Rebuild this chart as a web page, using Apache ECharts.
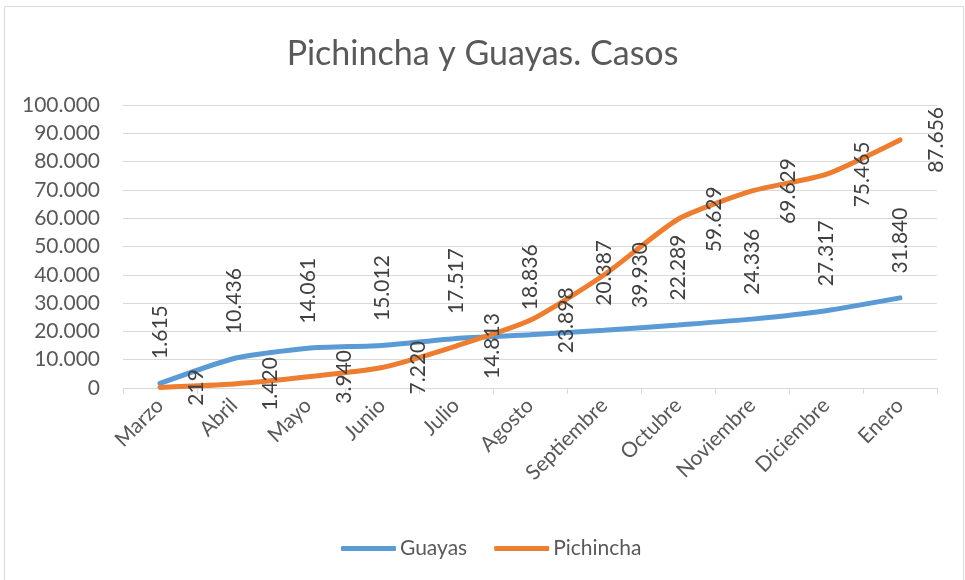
<!DOCTYPE html>
<html><head><meta charset="utf-8">
<script src="https://cdn.jsdelivr.net/npm/echarts@6/dist/echarts.min.js"></script>
<style>html,body{margin:0;padding:0;background:#fff}#c{width:965px;height:580px}</style>
</head><body><div id="c"></div>
<script>
const categories = ['Marzo', 'Abril', 'Mayo', 'Junio', 'Julio', 'Agosto', 'Septiembre', 'Octubre', 'Noviembre', 'Diciembre', 'Enero'];
const guayas = [1615, 10436, 14061, 15012, 17517, 18836, 20387, 22289, 24336, 27317, 31840];
const pichincha = [219, 1420, 3940, 7220, 14813, 23898, 39930, 59629, 69629, 75465, 87656];
const yMin = 0, yMax = 100000, yStep = 10000;
const titleText = 'Pichincha y Guayas. Casos';

const FONT = 'Lato';
const fmt = v => String(v).replace(/\B(?=(\d{3})+(?!\d))/g, '.');

const chart = echarts.init(document.getElementById('c'), null, {renderer: 'canvas'});
chart.setOption({
  animation: false,
  backgroundColor: '#fff',
  title: {
    text: titleText, left: 'center', top: 32,
    textStyle: {fontFamily: FONT, fontSize: 34, fontWeight: 'normal', color: '#595959'}
  },
  graphic: [{
    type: 'rect', shape: {x: 4.5, y: 6.5, width: 959, height: 590},
    style: {fill: 'none', stroke: '#d9d9d9', lineWidth: 1}, silent: true
  }],
  legend: {
    left: 336, top: 533, itemWidth: 55, itemHeight: 5, itemGap: 27,
    icon: 'roundRect',
    textStyle: {fontFamily: FONT, fontSize: 21, color: '#595959', padding: [0, 0, 0, -1]},
    data: ['Guayas', 'Pichincha']
  },
  grid: {left: 123, right: 28, top: 105, bottom: 192, containLabel: false},
  xAxis: {
    type: 'category', data: categories, boundaryGap: true,
    axisLine: {lineStyle: {color: '#d9d9d9', width: 1}},
    axisTick: {show: true, length: 6, lineStyle: {color: '#d9d9d9'}},
    axisLabel: {rotate: 45, margin: 14, interval: 0, fontFamily: FONT, fontSize: 21, color: '#595959'}
  },
  yAxis: {
    type: 'value', min: yMin, max: yMax, interval: yStep,
    axisLine: {show: false}, axisTick: {show: false},
    splitLine: {lineStyle: {color: '#d9d9d9', width: 1}},
    axisLabel: {margin: 23, fontFamily: FONT, fontSize: 21, color: '#595959', formatter: v => fmt(v)}
  },
  series: [
    {
      name: 'Guayas', type: 'line', data: guayas, smooth: 0.2,
      symbol: 'circle', symbolSize: 1, showSymbol: true,
      lineStyle: {width: 5, color: '#5B9BD5', cap: 'round'},
      itemStyle: {color: '#5B9BD5'},
      emphasis: {disabled: true},
      label: {
        show: true, position: 'top', distance: 24, rotate: 90,
        align: 'left', verticalAlign: 'middle',
        fontFamily: FONT, fontSize: 21, color: '#404040',
        formatter: p => fmt(p.value)
      }
    },
    {
      name: 'Pichincha', type: 'line', data: pichincha, smooth: 0.2,
      symbol: 'circle', symbolSize: 1, showSymbol: true,
      lineStyle: {width: 5, color: '#ED7D31', cap: 'round'},
      itemStyle: {color: '#ED7D31'},
      emphasis: {disabled: true},
      label: {
        show: true, position: 'right', distance: 25, rotate: 90,
        align: 'center', verticalAlign: 'top',
        fontFamily: FONT, fontSize: 21, color: '#404040',
        formatter: p => fmt(p.value)
      }
    }
  ]
});
</script></body></html>
